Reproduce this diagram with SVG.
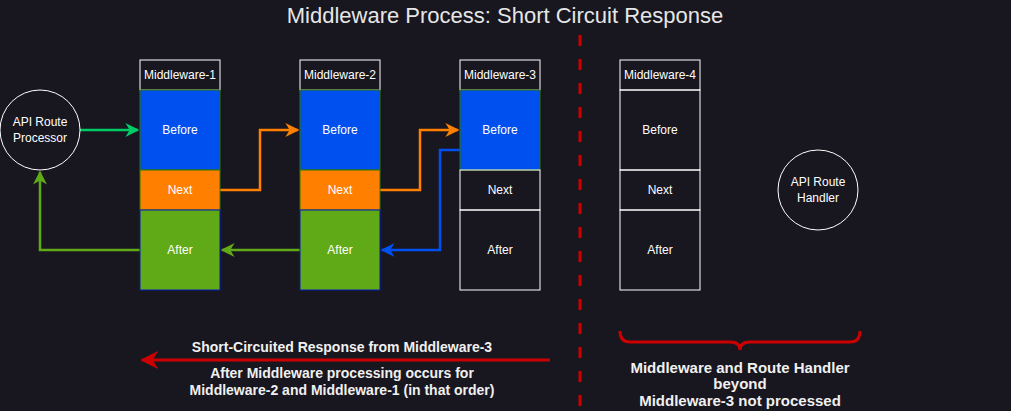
<svg xmlns="http://www.w3.org/2000/svg" width="1011" height="411" viewBox="0 0 1011 411">
<defs>
<style>
.t{font-family:"Liberation Sans",Arial,sans-serif;font-size:12px;fill:#ffffff;text-anchor:middle;dominant-baseline:central}
.b{font-family:"Liberation Sans",Arial,sans-serif;font-size:14px;font-weight:bold;fill:#f0f0f0;text-anchor:middle;dominant-baseline:central}
.hd{fill:none;stroke:#ffffff;stroke-width:1}
.bef{fill:#0050ef;stroke:#2d7600;stroke-width:1}
.nxt{fill:#ff8000;stroke:#2d7600;stroke-width:1}
.aft{fill:#60a917;stroke:#001dbc;stroke-width:1}
.emp{fill:none;stroke:#ffffff;stroke-width:1}
.ln{fill:none;stroke-width:2.5}
</style>
<marker id="mg" viewBox="0 0 10 10" refX="9" refY="5" markerWidth="5.6" markerHeight="5.6" orient="auto"><path d="M0,0 L10,5 L0,10 L3,5 Z" fill="#00cc66"/></marker>
<marker id="mo" viewBox="0 0 10 10" refX="9" refY="5" markerWidth="5.6" markerHeight="5.6" orient="auto"><path d="M0,0 L10,5 L0,10 L3,5 Z" fill="#ff8000"/></marker>
<marker id="ml" viewBox="0 0 10 10" refX="9" refY="5" markerWidth="5.6" markerHeight="5.6" orient="auto"><path d="M0,0 L10,5 L0,10 L3,5 Z" fill="#60a917"/></marker>
<marker id="mb" viewBox="0 0 10 10" refX="9" refY="5" markerWidth="5.6" markerHeight="5.6" orient="auto"><path d="M0,0 L10,5 L0,10 L3,5 Z" fill="#0050ef"/></marker>
<marker id="mr" viewBox="0 0 10 10" refX="9" refY="5" markerWidth="6" markerHeight="6" orient="auto"><path d="M0,0 L10,5 L0,10 L3,5 Z" fill="#cc0000"/></marker>
</defs>
<rect width="1011" height="411" fill="#18161f"/>
<text x="505" y="15" class="t" style="font-size:22px;fill:#e6e6e6">Middleware Process: Short Circuit Response</text>

<g id="connectors">
<path d="M80,130 H138" class="ln" stroke="#00cc66" marker-end="url(#mg)"/>
<path d="M220,190 H260 V130 H298" class="ln" stroke="#ff8000" marker-end="url(#mo)"/>
<path d="M380,190 H420 V130 H458" class="ln" stroke="#ff8000" marker-end="url(#mo)"/>
<path d="M460,150 H440 V250 H382" class="ln" stroke="#0050ef" marker-end="url(#mb)"/>
<path d="M300,250 H222" class="ln" stroke="#60a917" marker-end="url(#ml)"/>
<path d="M140,250 H40 V172" class="ln" stroke="#60a917" marker-end="url(#ml)"/>
<path d="M550,360 H142" fill="none" stroke="#cc0000" stroke-width="3" marker-end="url(#mr)"/>
</g>

<g id="processor">
<circle cx="40" cy="130" r="40" fill="none" stroke="#ffffff"/>
<text x="40" y="122" class="t">API Route</text>
<text x="40" y="138" class="t">Processor</text>
</g>

<g id="mw1">
<rect x="140" y="60" width="80" height="30" class="hd"/>
<text x="180" y="75" class="t">Middleware-1</text>
<rect x="140" y="90" width="80" height="80" class="bef"/>
<text x="180" y="130" class="t">Before</text>
<rect x="140" y="170" width="80" height="40" class="nxt"/>
<text x="180" y="190" class="t">Next</text>
<rect x="140" y="210" width="80" height="80" class="aft"/>
<text x="180" y="250" class="t">After</text>
</g>

<g id="mw2">
<rect x="300" y="60" width="80" height="30" class="hd"/>
<text x="340" y="75" class="t">Middleware-2</text>
<rect x="300" y="90" width="80" height="80" class="bef"/>
<text x="340" y="130" class="t">Before</text>
<rect x="300" y="170" width="80" height="40" class="nxt"/>
<text x="340" y="190" class="t">Next</text>
<rect x="300" y="210" width="80" height="80" class="aft"/>
<text x="340" y="250" class="t">After</text>
</g>

<g id="mw3">
<rect x="460" y="60" width="80" height="30" class="hd"/>
<text x="500" y="75" class="t">Middleware-3</text>
<rect x="460" y="90" width="80" height="80" class="bef"/>
<text x="500" y="130" class="t">Before</text>
<rect x="460" y="170" width="80" height="40" class="emp"/>
<text x="500" y="190" class="t">Next</text>
<rect x="460" y="210" width="80" height="80" class="emp"/>
<text x="500" y="250" class="t">After</text>
</g>

<g id="mw4">
<rect x="620" y="60" width="80" height="30" class="hd"/>
<text x="660" y="75" class="t">Middleware-4</text>
<rect x="620" y="90" width="80" height="80" class="emp"/>
<text x="660" y="130" class="t">Before</text>
<rect x="620" y="170" width="80" height="40" class="emp"/>
<text x="660" y="190" class="t">Next</text>
<rect x="620" y="210" width="80" height="80" class="emp"/>
<text x="660" y="250" class="t">After</text>
</g>

<g id="handler">
<circle cx="818" cy="190" r="40" fill="none" stroke="#ffffff"/>
<text x="818" y="182" class="t">API Route</text>
<text x="818" y="198" class="t">Handler</text>
</g>

<g id="divider">
<line x1="580" y1="35" x2="580" y2="411" stroke="#cc0000" stroke-width="3" stroke-dasharray="11 13"/>
</g>

<g id="brace">
<path d="M620,331 Q620,342 630,342 H730 Q740,342 740,350 Q740,342 750,342 H850 Q860,342 860,331" fill="none" stroke="#cc0000" stroke-width="3"/>
</g>

<g id="labels">
<text x="342" y="347" class="b">Short-Circuited Response from Middleware-3</text>
<text x="342" y="373" class="b">After Middleware processing occurs for</text>
<text x="342" y="390" class="b">Middleware-2 and Middleware-1 (in that order)</text>
<text x="740" y="367" class="b" style="font-size:15px">Middleware and Route Handler</text>
<text x="740" y="383" class="b" style="font-size:15px">beyond</text>
<text x="740" y="400" class="b" style="font-size:15px">Middleware-3 not processed</text>
</g>
</svg>
